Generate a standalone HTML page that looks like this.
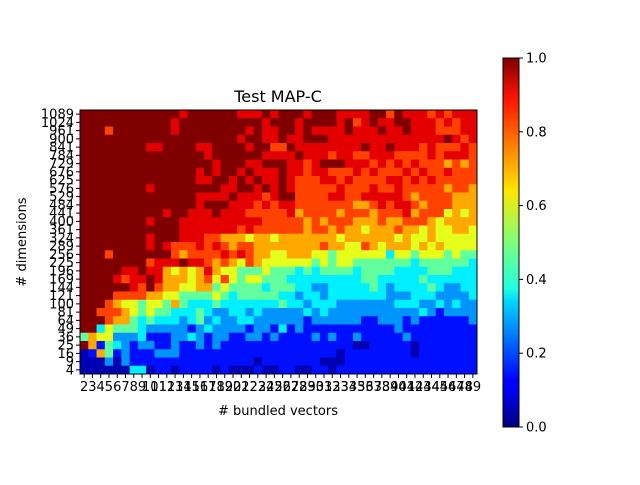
<!DOCTYPE html>
<html><head><meta charset="utf-8">
<style>
body{margin:0;background:#fff;font-family:"Liberation Sans","DejaVu Sans",sans-serif;}
svg text{font-family:"DejaVu Sans","Liberation Sans",sans-serif;}
</style></head>
<body>
<svg id="chart" width="640" height="480" xmlns="http://www.w3.org/2000/svg">
<rect width="640" height="480" fill="#fff"/>
<g id="cells"></g>
<g id="axes"></g>
<text x="278" y="102" text-anchor="middle" font-size="16">Test MAP-C</text>
<text x="278" y="415" text-anchor="middle" font-size="13"># bundled vectors</text>
<text transform="translate(26,242) rotate(-90)" text-anchor="middle" font-size="13"># dimensions</text>
<defs><linearGradient id="jet" x1="0" y1="1" x2="0" y2="0">
<stop offset="0" stop-color="#00007f"/><stop offset="0.11" stop-color="#0000ff"/><stop offset="0.125" stop-color="#0000ff"/>
<stop offset="0.34" stop-color="#00d4ff"/><stop offset="0.375" stop-color="#1fffe0"/><stop offset="0.5" stop-color="#7dff7a"/>
<stop offset="0.64" stop-color="#ffe600"/><stop offset="0.89" stop-color="#ff1300"/><stop offset="1" stop-color="#7f0000"/>
</linearGradient></defs>
<g>
<rect x="503" y="58" width="16" height="369" fill="url(#jet)" stroke="#000" stroke-width="1"/>
<g id="cbticks"></g>
</g>
</svg>
<script>
const xCategories = [];
for (let i = 2; i <= 49; i++) xCategories.push(i);
const yCategories = [4,9,16,25,36,49,64,81,100,121,144,169,196,225,256,289,324,361,400,441,484,529,576,625,676,729,784,841,900,961,1024,1089];
const colorbarTicks = [0.0,0.2,0.4,0.6,0.8,1.0];
// value levels encoded by the digits in each row string
const levelValues = [0.05,0.14,0.27,0.36,0.47,0.6,0.71,0.81,0.9,1.0];
// rows from top (1089) to bottom (4); left half + right half
const rowsLeft = [
"999999999999899999988898","999999999998999999999989","999799999998999999998988","999999999999999999989988",
"999999998899998899998997","999999999999999899999988","999999999999999989998899","999999999999998989989888",
"999999999999998899898988","999999998999999998899898","999999999999998888988878","999999999999998999888787",
"999999999989988898887777","999999998999888888888877","999999999999888888878777","999999998999888776665665",
"999999998987778787677666","999799999997677778787665","999999997888988767657655","999998898865656865544454",
"999987889866656757545544","999999879766556645444434","999977776655444454344444","999765545546433343333333",
"997776545443334322332322","999766434333234232233222","993544432222212322221221","465522231112232122112212",
"961432122112112121111111","016412111222111111111111","000202111111111111111011","000000330110111101000100"];
const rowsRight = [
"999899988889979888787888","998999989789889988878788","998988889888988988877788","988999888888888888889878",
"798888888898898887877787","889888788778887777878887","988789998887878787776767","988788777878777878778777",
"987778878777788787877777","987777787778778777776776","997777887788888767777666","887777777667878876777666",
"786777767776777867775656","777676777666766777656666","777677676656667665655665","666666656666665655655555",
"666667665576566656565555","566655455555535545554544","555545455444444434444443","443434444344443333444333",
"433333333344333334333333","443322333334323333432233","332332333333322233322223","433233322222223332232322",
"222323222222222223212222","222122222211222121111112","312111111111112111111111","111121211211111211111111",
"111111111001111101111111","111111101111111101111111","111110001111111111111111","110011011111111111111111"];

const X0=80, X1=477, Y0=110, Y1=374;
const cw=(X1-X0)/xCategories.length, ch=(Y1-Y0)/yCategories.length;
function xPos(i){return X0+i*cw;}
function yPos(j){return Y1-(j+1)*ch;}
function jet(v){
  const c=t=>Math.round(255*Math.max(0,Math.min(1,t)));
  return `rgb(${c(1.5-Math.abs(4*v-3))},${c(1.5-Math.abs(4*v-2))},${c(1.5-Math.abs(4*v-1))})`;
}
const NS="http://www.w3.org/2000/svg";
const cells=document.getElementById('cells');
const nRows=yCategories.length;
for(let r=0;r<nRows;r++){
  const s=rowsLeft[r]+rowsRight[r];
  const j=nRows-1-r;
  for(let i=0;i<xCategories.length;i++){
    const v=levelValues[parseInt(s[i])];
    const rc=document.createElementNS(NS,'rect');
    rc.setAttribute('x',xPos(i).toFixed(2));
    rc.setAttribute('y',yPos(j).toFixed(2));
    rc.setAttribute('width',(cw+0.4).toFixed(2));
    rc.setAttribute('height',(ch+0.4).toFixed(2));
    rc.setAttribute('fill',jet(v));
    
    
    cells.appendChild(rc);
  }
}
const axes=document.getElementById('axes');
let h=`<rect x="${X0}" y="${Y0}" width="${X1-X0}" height="${Y1-Y0}" fill="none" stroke="#000" stroke-width="1"/>`;
xCategories.forEach((c,i)=>{const x=xPos(i)+cw/2;
  h+=`<line x1="${x}" y1="${Y1}" x2="${x}" y2="${Y1+4}" stroke="#000"/>`;
  h+=`<text x="${x}" y="${Y1+17}" text-anchor="middle" font-size="13">${c}</text>`;});
yCategories.forEach((c,j)=>{const y=yPos(j)+ch/2;
  h+=`<line x1="${X0-4}" y1="${y}" x2="${X0}" y2="${y}" stroke="#000"/>`;
  h+=`<text x="${X0-6}" y="${y+4.5}" text-anchor="end" font-size="13">${c}</text>`;});
axes.innerHTML=h;
const cb=document.getElementById('cbticks');
let t='';
colorbarTicks.forEach(v=>{const y=427-v*369;
  t+=`<line x1="519" y1="${y}" x2="523" y2="${y}" stroke="#000"/>`;
  t+=`<text x="526" y="${y+4.5}" font-size="13">${v.toFixed(1)}</text>`;});
cb.innerHTML=t;
</script>
</body></html>
